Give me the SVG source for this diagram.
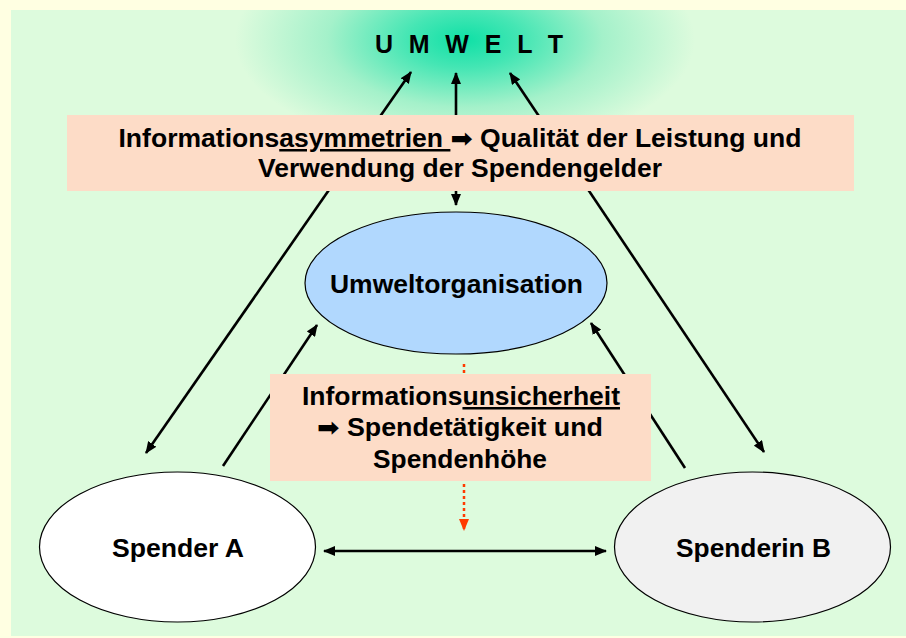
<svg xmlns="http://www.w3.org/2000/svg" width="906" height="638" viewBox="0 0 906 638">
<style>
text{font-family:"Liberation Sans",Arial,"DejaVu Sans",sans-serif;font-weight:bold;fill:#000}
.t{font-size:25px;text-anchor:middle}
.ar{font-family:"DejaVu Sans",sans-serif}
.conn{stroke:#000;stroke-width:2.6;fill:none}
.box{fill:#FDDCC7}
.ul{text-decoration:underline}
</style>
<defs>
<clipPath id="panel"><rect x="11" y="10" width="895" height="626"/></clipPath>
<radialGradient id="glow" cx="465" cy="40" r="1" gradientUnits="userSpaceOnUse" gradientTransform="translate(465 40) scale(230 112) translate(-465 -40)">
<stop offset="0" stop-color="#0FE0A6"/>
<stop offset="0.25" stop-color="#45E6B4"/>
<stop offset="0.6" stop-color="#A4F1CA"/>
<stop offset="1" stop-color="#DDFBDD"/>
</radialGradient>
<marker id="ah" viewBox="0 0 12 10" refX="11" refY="5" markerWidth="12" markerHeight="10" markerUnits="userSpaceOnUse" orient="auto-start-reverse">
<path d="M0,0 L12,5 L0,10 z" fill="#000"/>
</marker>
<marker id="rh" viewBox="0 0 10 12" refX="5" refY="12" markerWidth="10" markerHeight="12" markerUnits="userSpaceOnUse" orient="0">
<path d="M0,0 L10,0 L5,12 z" fill="#FF3A00"/>
</marker>
</defs>
<rect x="0" y="0" width="906" height="638" fill="#FFFFE2"/>
<rect x="11" y="10" width="895" height="626" fill="#DDFBDD"/>
<ellipse cx="465" cy="40" rx="230" ry="112" fill="url(#glow)" clip-path="url(#panel)"/>
<text x="375" y="53" style="font-size:25px;letter-spacing:4.4px">U M W E L T</text>

<g id="connectors">
<line class="conn" x1="146" y1="453" x2="411" y2="72" marker-start="url(#ah)" marker-end="url(#ah)"/>
<line class="conn" x1="456" y1="205" x2="456" y2="73" marker-start="url(#ah)" marker-end="url(#ah)"/>
<line class="conn" x1="764" y1="452" x2="510" y2="73" marker-start="url(#ah)" marker-end="url(#ah)"/>
<line class="conn" x1="223" y1="466" x2="317" y2="325" marker-end="url(#ah)"/>
<line class="conn" x1="685" y1="468" x2="591" y2="323" marker-end="url(#ah)"/>
<line class="conn" x1="324" y1="551" x2="606" y2="551" marker-start="url(#ah)" marker-end="url(#ah)"/>
<line x1="464" y1="364" x2="464" y2="531" stroke="#FF3A00" stroke-width="2.5" stroke-dasharray="3 3" marker-end="url(#rh)"/>
</g>

<g id="info-asymmetrien">
<rect class="box" x="67" y="115" width="787" height="76"/>
<text class="t" x="460" y="147" textLength="683" lengthAdjust="spacingAndGlyphs">Informations<tspan class="ul">asymmetrien </tspan><tspan class="ar">➡︎</tspan> Qualität der Leistung und</text>
<text class="t" x="460" y="177" textLength="404" lengthAdjust="spacingAndGlyphs">Verwendung der Spendengelder</text>
</g>

<g id="umweltorganisation">
<ellipse cx="456" cy="283" rx="151" ry="71" fill="#B1D8FE" stroke="#000" stroke-width="1.2"/>
<text class="t" x="456.5" y="293" textLength="253" lengthAdjust="spacingAndGlyphs">Umweltorganisation</text>
</g>

<g id="info-unsicherheit">
<rect class="box" x="270" y="374" width="381" height="107"/>
<text class="t" x="461" y="405" textLength="318" lengthAdjust="spacingAndGlyphs">Informations<tspan class="ul">unsicherheit</tspan></text>
<text class="t" x="460" y="436" textLength="286" lengthAdjust="spacingAndGlyphs"><tspan class="ar">➡︎</tspan> Spendetätigkeit und</text>
<text class="t" x="460" y="468" textLength="174" lengthAdjust="spacingAndGlyphs">Spendenhöhe</text>
</g>

<g id="spender-a">
<ellipse cx="177.5" cy="547" rx="138" ry="75" fill="#FFFFFF" stroke="#000" stroke-width="1.2"/>
<text class="t" x="178" y="557" textLength="132" lengthAdjust="spacingAndGlyphs">Spender A</text>
</g>

<g id="spenderin-b">
<ellipse cx="752.5" cy="547" rx="138" ry="75" fill="#F1F1F1" stroke="#000" stroke-width="1.2"/>
<text class="t" x="753.5" y="557" textLength="155" lengthAdjust="spacingAndGlyphs">Spenderin B</text>
</g>
</svg>
